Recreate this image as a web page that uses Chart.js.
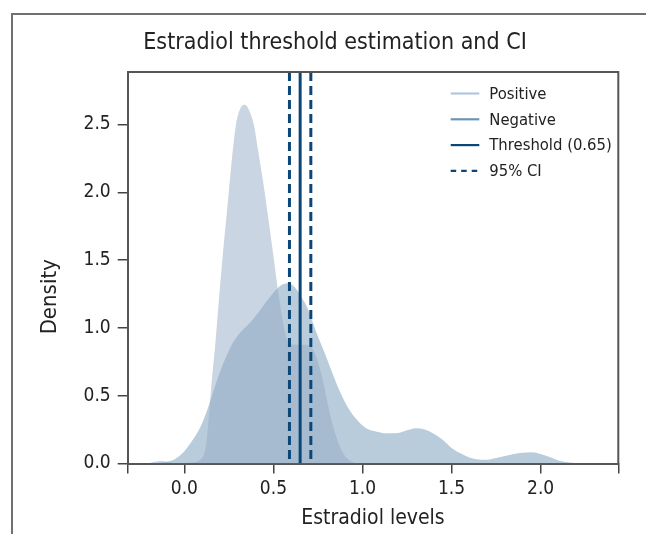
<!DOCTYPE html>
<html><head><meta charset="utf-8">
<script src="https://cdn.jsdelivr.net/npm/chart.js@4.4.1/dist/chart.umd.min.js"></script>
<style>
html,body{margin:0;padding:0;background:#fff;overflow:hidden;}
#wrap{position:relative;width:646px;height:534px;overflow:hidden;}
#frame{position:absolute;left:11px;top:13px;width:700px;height:600px;border-top:2px solid #707070;border-left:2px solid #707070;pointer-events:none;}
canvas{position:absolute;left:0;top:0;}
</style></head><body>
<div id="wrap"><canvas id="c" width="646" height="534"></canvas><div id="frame"></div></div>
<script>
const FONT = "'Liberation Sans Narrow','DejaVu Sans Condensed','Arial Narrow',sans-serif";
const titleText = 'Estradiol threshold estimation and CI';
const xLabel = 'Estradiol levels';
const yLabel = 'Density';
const seriesNames = ['Positive', 'Negative', 'Threshold (0.65)', '95% CI'];

const positiveX = [-0.20,-0.17,-0.13,-0.09,-0.05,0.00,0.05,0.09,0.12,0.135,0.15,0.175,0.20,0.22,0.24,0.265,0.29,0.315,0.34,0.365,0.39,0.415,0.443,0.47,0.50,0.52,0.54,0.56,0.575,0.60,0.65,0.70,0.73,0.76,0.78,0.80,0.83,0.86,0.89,0.93,0.97];
const positiveY = [0.0,0.012,0.018,0.01,0.003,0.004,0.01,0.03,0.12,0.3,0.55,0.9,1.3,1.6,1.87,2.22,2.5,2.62,2.645,2.6,2.5,2.3,2.07,1.82,1.53,1.33,1.15,1.0,0.92,0.88,0.875,0.87,0.82,0.7,0.6,0.47,0.3,0.17,0.08,0.02,0.0];

const negativeX = [-0.2,-0.15,-0.1,-0.05,0,0.05,0.09,0.13,0.17,0.21,0.26,0.31,0.37,0.43,0.5,0.55,0.585,0.62,0.66,0.69,0.74,0.78,0.83,0.87,0.92,0.97,1.02,1.08,1.14,1.2,1.25,1.3,1.35,1.4,1.45,1.5,1.55,1.6,1.65,1.7,1.75,1.8,1.85,1.9,1.95,2.0,2.05,2.1,2.15,2.2,2.25];
const negativeY = [0,0.003,0.012,0.035,0.09,0.18,0.27,0.40,0.56,0.71,0.86,0.96,1.04,1.14,1.26,1.32,1.33,1.3,1.22,1.15,0.97,0.84,0.67,0.54,0.41,0.32,0.26,0.235,0.223,0.225,0.245,0.26,0.25,0.22,0.175,0.115,0.075,0.045,0.03,0.027,0.04,0.055,0.07,0.079,0.083,0.07,0.048,0.023,0.01,0.003,0];

const threshold = 0.65;
const ciLow = 0.59;
const ciHigh = 0.71;

const xTicks = [0, 0.5, 1, 1.5, 2];
const yTicks = [0, 0.5, 1, 1.5, 2, 2.5];
const xMin = -0.318, xMax = 2.436, yMin = 0, yMax = 2.887;

const NAVY = '#0c4677';
const POS_FILL = 'rgba(147,171,197,0.5)';
const NEG_FILL = 'rgba(115,153,183,0.5)';
const POS_LINE = '#b3c6dc';
const NEG_LINE = '#6b93b7';

Chart.defaults.font.family = FONT;
Chart.defaults.color = '#222';

const pts = (xs, ys) => xs.map((x, i) => ({x: x, y: ys[i]}));
const vline = v => [{x: v, y: yMax}, {x: v, y: yMin}];

const legendPlugin = {
  id: 'insideLegend',
  afterDraw(chart) {
    const ctx = chart.ctx, a = chart.chartArea;
    const items = [
      {label: seriesNames[0], color: POS_LINE, dash: []},
      {label: seriesNames[1], color: NEG_LINE, dash: []},
      {label: seriesNames[2], color: NAVY, dash: []},
      {label: seriesNames[3], color: NAVY, dash: [5.5, 5]}
    ];
    ctx.save();
    ctx.font = '16.5px ' + FONT;
    ctx.textBaseline = 'middle';
    ctx.textAlign = 'left';
    items.forEach((it, i) => {
      const y = a.top + 21.5 + i * 25.8;
      ctx.beginPath();
      ctx.setLineDash(it.dash);
      ctx.strokeStyle = it.color;
      ctx.lineWidth = 2.2;
      ctx.moveTo(a.right - 167.6, y);
      ctx.lineTo(a.right - 139, y);
      ctx.stroke();
      ctx.setLineDash([]);
      ctx.fillStyle = '#222';
      ctx.fillText(it.label, a.right - 129, y + 1);
    });
    // y axis title
    ctx.save();
    ctx.font = '22px ' + FONT;
    ctx.textAlign = 'center';
    ctx.textBaseline = 'middle';
    ctx.translate(a.left - 77, (a.top + a.bottom) / 2 + 29);
    ctx.rotate(-Math.PI / 2);
    ctx.fillText(yLabel, 0, 0);
    ctx.restore();
    ctx.restore();
  },
  afterDatasetsDraw(chart) {
    const ctx = chart.ctx, a = chart.chartArea;
    ctx.save();
    ctx.strokeStyle = '#555';
    ctx.lineWidth = 2;
    ctx.beginPath();
    ctx.moveTo(a.left, a.top);
    ctx.lineTo(a.right, a.top);
    ctx.lineTo(a.right, a.bottom);
    ctx.stroke();
    ctx.restore();
  }
};

new Chart(document.getElementById('c'), {
  type: 'line',
  data: {
    datasets: [
      {label: seriesNames[2], data: vline(threshold), borderColor: NAVY, borderWidth: 3, pointRadius: 0, fill: false},
      {label: seriesNames[3], data: vline(ciLow), borderColor: NAVY, borderWidth: 3, borderDash: [9, 5], pointRadius: 0, fill: false},
      {label: seriesNames[3] + ' upper', data: vline(ciHigh), borderColor: NAVY, borderWidth: 3, borderDash: [9, 5], pointRadius: 0, fill: false},
      {label: seriesNames[0], data: pts(positiveX, positiveY), backgroundColor: POS_FILL, borderColor: 'rgba(0,0,0,0)', borderWidth: 0, pointRadius: 0, fill: 'origin', cubicInterpolationMode: 'monotone'},
      {label: seriesNames[1], data: pts(negativeX, negativeY), backgroundColor: NEG_FILL, borderColor: 'rgba(0,0,0,0)', borderWidth: 0, pointRadius: 0, fill: 'origin', cubicInterpolationMode: 'monotone'}
    ]
  },
  options: {
    responsive: false,
    devicePixelRatio: 1,
    animation: false,
    layout: {padding: {left: 51.7, right: 27.7, top: 0, bottom: 0}},
    plugins: {
      legend: {display: false},
      tooltip: {enabled: false},
      title: {display: true, text: titleText, color: '#222', font: {size: 23, weight: 'normal', family: FONT}, padding: {top: 29, bottom: 15.4}}
    },
    scales: {
      x: {
        type: 'linear', min: xMin, max: xMax,
        afterBuildTicks: s => { s.ticks = [xMin].concat(xTicks, [xMax]).map(v => ({value: v})); },
        afterFit: s => { s.height = 70.5; },
        ticks: {autoSkip: false, maxRotation: 0, padding: 4, color: '#222', font: {size: 19},
          callback: v => xTicks.includes(v) ? v.toFixed(1) : ''},
        grid: {drawOnChartArea: false, drawTicks: true, tickLength: 10, color: '#444', lineWidth: 1.5},
        border: {display: true, color: '#555', width: 2},
        title: {display: true, text: xLabel, color: '#222', font: {size: 21}, padding: {top: 3, bottom: 3}}
      },
      y: {
        type: 'linear', min: yMin, max: yMax,
        afterBuildTicks: s => { s.ticks = yTicks.map(v => ({value: v})); },
        afterFit: s => { s.width = 76; },
        ticks: {padding: 7, color: '#222', font: {size: 19}, callback: v => v.toFixed(1)},
        grid: {drawOnChartArea: false, drawTicks: true, tickLength: 10, color: '#444', lineWidth: 1.5},
        border: {display: true, color: '#555', width: 2}
      }
    }
  },
  plugins: [legendPlugin]
});
</script>
</body></html>
